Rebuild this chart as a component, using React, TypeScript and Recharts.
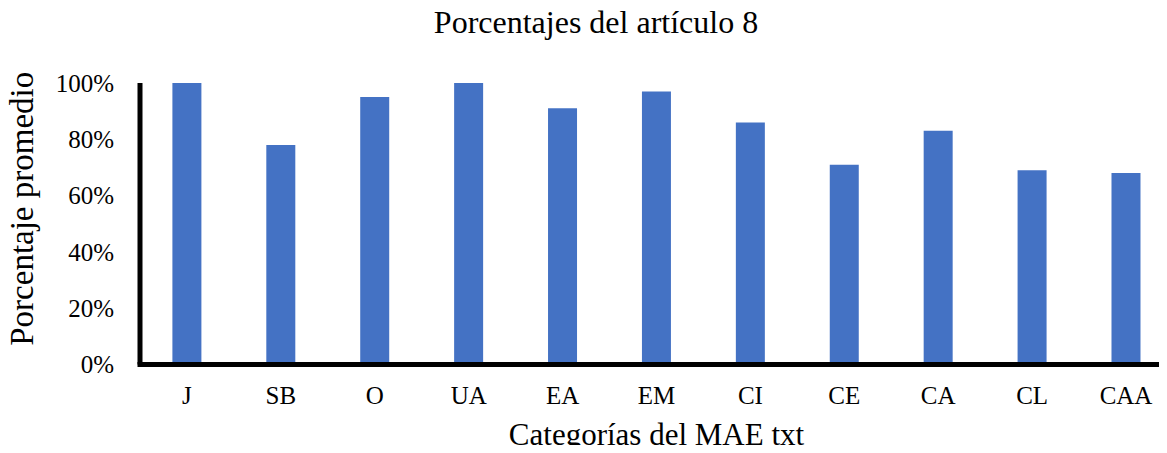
import { BarChart, Bar, XAxis, YAxis } from 'recharts'

const categories = ['J', 'SB', 'O', 'UA', 'EA', 'EM', 'CI', 'CE', 'CA', 'CL', 'CAA']
const percentages = [100, 78, 95, 100, 91, 97, 86, 71, 83, 69, 68]
const yTicks = [0, 20, 40, 60, 80, 100]

const data = categories.map((name, i) => ({ name, value: percentages[i] }))

const FONT = '"Liberation Serif", "Times New Roman", serif'

function YTitle(props: any) {
  const vb = props.viewBox || {}
  const cx = vb.x + 22
  const cy = vb.y + vb.height / 2 - 15
  return (
    <text
      x={cx}
      y={cy}
      transform={`rotate(-90, ${cx}, ${cy})`}
      textAnchor="middle"
      dominantBaseline="central"
      fontFamily={FONT}
      fontSize={33}
      fill="#000"
    >
      Porcentaje promedio
    </text>
  )
}

export default function App() {
  return (
    <div
      style={{
        margin: -8,
        width: 1167,
        height: 453,
        overflow: 'hidden',
        position: 'relative',
        background: '#fff',
      }}
    >
      <div
        style={{
          position: 'absolute',
          left: 0,
          top: 7,
          width: 1192,
          textAlign: 'center',
          fontFamily: FONT,
          fontSize: 32,
          lineHeight: '31px',
          color: '#000',
        }}
      >
        Porcentajes del artículo 8
      </div>
      <BarChart
        width={1180}
        height={453}
        data={data}
        margin={{ top: 83, right: 7, left: 0, bottom: 0 }}
        barCategoryGap="34.5%"
      >
        <XAxis
          dataKey="name"
          height={88.5}
          tickLine={false}
          tickSize={6}
          tickMargin={16}
          axisLine={{ stroke: '#000', strokeWidth: 5, strokeLinecap: 'square' }}
          tick={{ fontSize: 25, fill: '#000', fontFamily: FONT }}
          interval={0}
          label={{
            value: 'Categorías del MAE txt',
            position: 'insideBottom',
            offset: 8,
            style: { fontSize: 31, fill: '#000', fontFamily: FONT },
          }}
        />
        <YAxis
          width={140}
          domain={[0, 100]}
          ticks={yTicks}
          tickFormatter={(v: number) => `${v}%`}
          tickLine={false}
          tickSize={6}
          tickMargin={20}
          axisLine={{ stroke: '#000', strokeWidth: 5 }}
          tick={{ fontSize: 25, fill: '#000', fontFamily: FONT }}
          label={<YTitle />}
        />
        <Bar dataKey="value" fill="#4472C4" isAnimationActive={false} />
      </BarChart>
    </div>
  )
}
